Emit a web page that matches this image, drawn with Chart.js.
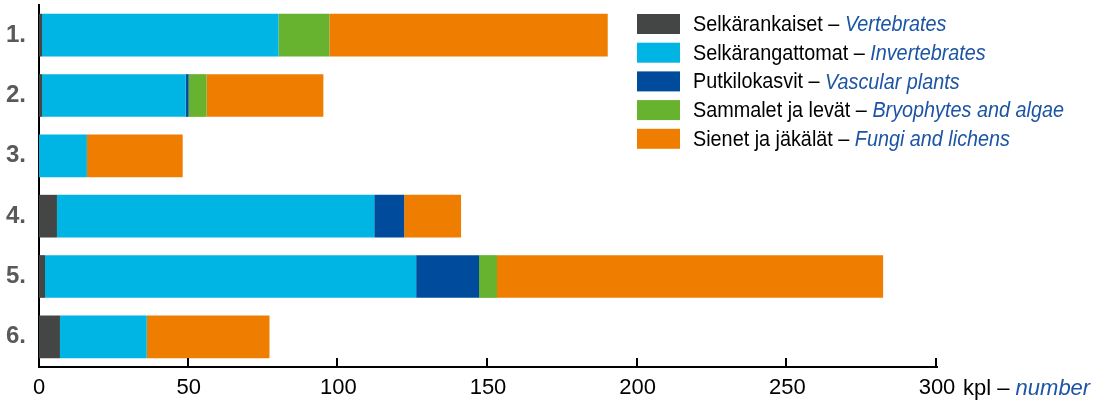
<!DOCTYPE html>
<html>
<head>
<meta charset="utf-8">
<script src="https://cdn.jsdelivr.net/npm/chart.js@4"></script>
<style>
  html, body { margin: 0; padding: 0; background: #fff; }
  #wrap { width: 1108px; height: 403px; }
</style>
</head>
<body>
<div id="wrap"><canvas id="myChart" width="1108" height="403"></canvas></div>
<script>
//chart data
const categories = ["1.", "2.", "3.", "4.", "5.", "6."];
const vertebrates = [1, 1, 0, 6, 2, 7];
const invertebrates = [79, 48, 16, 106, 124, 29];
const vascularPlants = [0, 1, 0, 10, 21, 0];
const bryophytes = [17, 6, 0, 0, 6, 0];
const fungi = [93, 39, 32, 19, 129, 41];
const xTicks = [0, 50, 100, 150, 200, 250, 300];

const namesFi = ["Selkärankaiset", "Selkärangattomat", "Putkilokasvit", "Sammalet ja levät", "Sienet ja jäkälät"];
const namesEn = ["Vertebrates", "Invertebrates", "Vascular plants", "Bryophytes and algae", "Fungi and lichens"];
const colors = ["#444646", "#00b4e4", "#004b9b", "#67b22f", "#ef7d00"];
const series = [vertebrates, invertebrates, vascularPlants, bryophytes, fungi];

const FONT = "'Liberation Sans', Arial, sans-serif";
const BLUE_TEXT = "#1d55a5";

//legend + unit + inside ticks
const extras = {
  id: "extras",
  afterDraw(chart) {
    const ctx = chart.ctx;
    const x = chart.scales.x;
    const area = chart.chartArea;
    ctx.save();

    //x tick marks pointing up
    ctx.strokeStyle = "#000";
    ctx.lineWidth = 2;
    xTicks.forEach((v) => {
      if (v === 0) return;
      const px = Math.round(x.getPixelForValue(v)) - 1;
      ctx.beginPath();
      ctx.moveTo(px, area.bottom);
      ctx.lineTo(px, area.bottom - 9);
      ctx.stroke();
    });

    //unit label
    ctx.textBaseline = "alphabetic";
    ctx.textAlign = "left";
    ctx.font = "22px " + FONT;
    ctx.fillStyle = "#000";
    const ux = 963, uy = 395;
    const part = "kpl – ";
    ctx.fillText(part, ux, uy);
    const w = ctx.measureText(part).width;
    ctx.font = "italic 22px " + FONT;
    ctx.fillStyle = BLUE_TEXT;
    ctx.fillText("number", ux + w, uy);

    //legend (condensed text)
    const sx = 0.9;
    chart.data.datasets.forEach((ds, i) => {
      const top = 14 + i * 28.7;
      ctx.fillStyle = ds.backgroundColor;
      ctx.fillRect(637, top, 43, 20);
      ctx.save();
      ctx.translate(693, top + 11);
      ctx.scale(sx, 1);
      ctx.font = "22px " + FONT;
      ctx.fillStyle = "#000";
      ctx.textBaseline = "middle";
      const fi = namesFi[i] + " – ";
      ctx.fillText(fi, 0, 0);
      const fw = ctx.measureText(fi).width;
      ctx.font = "italic 22px " + FONT;
      ctx.fillStyle = BLUE_TEXT;
      ctx.fillText(namesEn[i], fw, 0);
      ctx.restore();
    });
    ctx.restore();
  },
};

const datasets = series.map((values, i) => ({
  label: namesFi[i],
  data: values,
  backgroundColor: colors[i],
  borderWidth: 0,
  barPercentage: 0.708,
  categoryPercentage: 1.0,
}));

const config = {
  type: "bar",
  data: { labels: categories, datasets: datasets },
  options: {
    indexAxis: "y",
    responsive: false,
    animation: false,
    layout: { padding: { top: 5, right: 171, left: 0, bottom: 0 } },
    plugins: { legend: { display: false }, tooltip: { enabled: false } },
    scales: {
      x: {
        stacked: true,
        min: 0,
        max: 300,
        afterBuildTicks: (scale) => {
          scale.ticks = xTicks.map((v) => ({ value: v }));
        },
        afterFit: (scale) => {
          scale.height = 36;
          scale.paddingLeft = 0;
          scale.paddingRight = 0;
        },
        grid: { display: false, drawTicks: false },
        border: { display: true, color: "#000", width: 2 },
        ticks: {
          color: "#000",
          font: { family: FONT, size: 22 },
          padding: 8,
          maxRotation: 0,
        },
      },
      y: {
        stacked: true,
        afterFit: (scale) => {
          scale.width = 39;
          scale.paddingTop = 0;
          scale.paddingBottom = 0;
        },
        grid: { display: false, drawTicks: false },
        border: { display: true, color: "#000", width: 2 },
        ticks: {
          color: "#595959",
          font: { family: FONT, size: 24, weight: "bold" },
          padding: 13,
        },
      },
    },
  },
  plugins: [extras],
};

const myChart = new Chart(document.getElementById("myChart"), config);
</script>
</body>
</html>
